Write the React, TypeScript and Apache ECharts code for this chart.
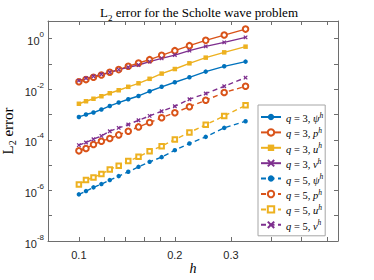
import React, { useEffect, useRef } from 'react';
import * as echarts from 'echarts';

// mesh sizes h
const hValues = [0.1, 0.10526, 0.11111, 0.11765, 0.125, 0.13333, 0.14286, 0.15385, 0.16667, 0.18182, 0.2, 0.22222, 0.25, 0.28571, 0.33333];

// q = 3 (solid)
const q3Psi = [8.05e-4, 1.0e-3, 1.2e-3, 1.58e-3, 2.19e-3, 2.98e-3, 4.03e-3, 5.43e-3, 8.32e-3, 1.25e-2, 1.89e-2, 2.97e-2, 4.99e-2, 8.07e-2, 0.124];
const q3P = [1.97e-2, 2.41e-2, 2.97e-2, 3.66e-2, 4.68e-2, 5.98e-2, 8.07e-2, 0.109, 0.148, 0.219, 0.336, 0.53, 0.857, 1.387, 2.39];
const q3U = [2.67e-3, 3.36e-3, 4.21e-3, 5.29e-3, 6.95e-3, 9.12e-3, 1.25e-2, 1.72e-2, 2.59e-2, 4.16e-2, 6.31e-2, 0.106, 0.178, 0.288, 0.483];
const q3V = [2.2e-2, 2.71e-2, 3.25e-2, 3.9e-2, 4.68e-2, 5.98e-2, 7.37e-2, 9.08e-2, 0.124, 0.167, 0.225, 0.336, 0.497, 0.714, 1.125];

// q = 5 (dashed)
const q5Psi = [6.98e-7, 9.42e-7, 1.32e-6, 1.78e-6, 2.56e-6, 3.68e-6, 5.44e-6, 8.57e-6, 1.35e-5, 2.07e-5, 3.91e-5, 7.19e-5, 1.31e-4, 2.97e-4, 5.46e-4];
const q5P = [3.67e-5, 4.56e-5, 6.56e-5, 8.86e-5, 1.13e-4, 1.57e-4, 2.2e-4, 3.25e-4, 4.84e-4, 7.5e-4, 1.18e-3, 2.04e-3, 3.67e-3, 7.4e-3, 1.31e-2];
const q5U = [1.73e-6, 2.56e-6, 3.27e-6, 4.42e-6, 6.78e-6, 9.4e-6, 1.44e-5, 2.13e-5, 3.57e-5, 5.62e-5, 1.03e-4, 1.95e-4, 3.97e-4, 8.83e-4, 2.33e-3];
const q5V = [6.17e-5, 7.87e-5, 1.06e-4, 1.43e-4, 2.2e-4, 2.97e-4, 4.04e-4, 5.97e-4, 8.83e-4, 1.35e-3, 2.13e-3, 4.03e-3, 6.76e-3, 1.31e-2, 2.89e-2];

const xLabelValues = [0.1, 0.2, 0.3];
const xTickValues = [0.1, 0.12, 0.14, 0.16, 0.18, 0.2, 0.3, 0.4, 0.5, 0.6];
const yLabelValues = [1e-8, 1e-6, 1e-4, 1e-2, 1];
const yDecadeTicks = [1e-8, 1e-7, 1e-6, 1e-5, 1e-4, 1e-3, 1e-2, 1e-1, 1];

const BLUE = '#0072BD';
const ORANGE = '#D95319';
const YELLOW = '#EDB120';
const PURPLE = '#7E2F8E';
const XPATH = 'path://M0,0L10,10M0,10L10,0';

type Def = { q: string; v: string; data: number[]; color: string; dashed: boolean; symbol: string; size: number; hollow?: boolean };
const defs: Def[] = [
  { q: '3', v: 'ψ', data: q3Psi, color: BLUE, dashed: false, symbol: 'circle', size: 4.5 },
  { q: '3', v: 'p', data: q3P, color: ORANGE, dashed: false, symbol: 'emptyCircle', size: 5.5, hollow: true },
  { q: '3', v: 'u', data: q3U, color: YELLOW, dashed: false, symbol: 'rect', size: 4.5 },
  { q: '3', v: 'v', data: q3V, color: PURPLE, dashed: false, symbol: XPATH, size: 3.5 },
  { q: '5', v: 'ψ', data: q5Psi, color: BLUE, dashed: true, symbol: 'circle', size: 4.5 },
  { q: '5', v: 'p', data: q5P, color: ORANGE, dashed: true, symbol: 'emptyCircle', size: 5.5, hollow: true },
  { q: '5', v: 'u', data: q5U, color: YELLOW, dashed: true, symbol: 'emptyRect', size: 4.5, hollow: true },
  { q: '5', v: 'v', data: q5V, color: PURPLE, dashed: true, symbol: XPATH, size: 3.5 },
];

const SERIF = '"Liberation Serif", "DejaVu Serif", serif';
const SANS = '"Liberation Sans", Arial, sans-serif';
const AXIS_COLOR = '#6e6e6e';
const TEXT_COLOR = '#262626';

export default function App() {
  const ref = useRef<HTMLDivElement>(null);
  useEffect(() => {
    if (!ref.current) return;
    const chart = echarts.init(ref.current, undefined, { renderer: 'svg' });
    const nameOf = (d: Def) => `q = ${d.q}, ${d.v}h`;
    const series = defs.map((d) => ({
      name: nameOf(d),
      type: 'line',
      data: hValues.map((h, i) => [h, d.data[i]]),
      symbol: d.symbol,
      symbolSize: d.size,
      showSymbol: true,
      lineStyle: { color: d.color, width: 1.4, type: d.dashed ? [5, 3.5] : 'solid' },
      itemStyle: {
        color: d.color,
        borderColor: d.color,
        borderWidth: d.symbol === XPATH ? 1.3 : d.hollow ? 1.3 : 0,
      },
      xAxisIndex: 0,
      yAxisIndex: 0,
      z: 3,
    }));

    const xBase = {
      type: 'log',
      logBase: 10,
      min: 0.08,
      max: 0.65,
      splitLine: { show: false },
      axisLine: { show: true, onZero: false, lineStyle: { color: AXIS_COLOR, width: 1 } },
      axisTick: { show: true, inside: true, length: 4, customValues: xTickValues, lineStyle: { color: AXIS_COLOR } },
      minorTick: { show: false },
    };
    const yBase = {
      type: 'log',
      logBase: 10,
      min: 1e-8,
      max: 5,
      splitLine: { show: false },
      axisLine: { show: true, onZero: false, lineStyle: { color: AXIS_COLOR, width: 1 } },
      axisTick: { show: true, inside: true, length: 4, customValues: yDecadeTicks, lineStyle: { color: AXIS_COLOR } },
      minorTick: { show: false },
    };

    const labelRich = {
      b: { fontFamily: SANS, fontSize: 11, color: TEXT_COLOR, verticalAlign: 'bottom', lineHeight: 16 },
      s: { fontFamily: SANS, fontSize: 8, color: TEXT_COLOR, verticalAlign: 'top', lineHeight: 16 },
    };

    const legendRich = {
      i: { fontFamily: SERIF, fontStyle: 'italic', fontSize: 10.5, color: '#000', lineHeight: 14, verticalAlign: 'bottom' },
      n: { fontFamily: SERIF, fontSize: 10.5, color: '#000', lineHeight: 14, verticalAlign: 'bottom' },
      sup: { fontFamily: SERIF, fontStyle: 'italic', fontSize: 7.5, color: '#000', lineHeight: 14, verticalAlign: 'top', padding: [1, 0, 0, 0] },
    };

    chart.setOption({
      animation: false,
      backgroundColor: '#fff',
      title: {
        text: '{n|L}{sub|2}{n| error for the Scholte wave problem}',
        left: 194,
        textAlign: 'center',
        top: 1,
        textStyle: {
          fontWeight: 'normal',
          rich: {
            n: { fontFamily: SERIF, fontSize: 13, fontWeight: 'normal', color: '#000', lineHeight: 18, verticalAlign: 'top' },
            sub: { fontFamily: SERIF, fontSize: 9, fontWeight: 'normal', color: '#000', lineHeight: 18, verticalAlign: 'bottom', padding: [0, 0, 2, 0] },
          },
        },
      },
      grid: { left: 48, right: 36, top: 21, bottom: 39, containLabel: false, outerBoundsMode: 'none' },
      legend: {
        orient: 'vertical',
        left: 258,
        top: 105,
        padding: [5, 2, 4, 2],
        itemGap: 1.4,
        itemWidth: 20,
        itemHeight: 8,
        backgroundColor: '#fff',
        borderColor: '#a6a6a6',
        borderWidth: 1,
        data: defs.map(nameOf),
        formatter: (name: string) => {
          const d = defs.find((x) => nameOf(x) === name)!;
          return `{i|q}{n| = ${d.q}, }{i|${d.v}}{sup|h}`;
        },
        textStyle: { rich: legendRich, padding: [0, 0, 0, 0] },
      },
      xAxis: [
        {
          ...xBase,
          position: 'bottom',
          axisLabel: {
            show: true,
            customValues: xLabelValues,
            margin: 8,
            fontFamily: SANS,
            fontSize: 11,
            color: TEXT_COLOR,
            formatter: (v: number) => String(Math.round(v * 10) / 10),
          },
          name: 'h',
          nameLocation: 'middle',
          nameGap: 20,
          nameMoveOverlap: false,
          nameTextStyle: { fontFamily: SERIF, fontStyle: 'italic', fontSize: 14, color: '#000' },
        },
        {
          ...xBase,
          position: 'top',
          axisLabel: { show: false },
        },
      ],
      yAxis: [
        {
          ...yBase,
          position: 'left',
          axisLabel: {
            show: true,
            customValues: yLabelValues,
            margin: 4,
            formatter: (v: number) => `{b|10}{s|${Math.round(Math.log10(v))}}`,
            rich: labelRich,
          },
          name: '{n|L}{sub|2}{n| error}',
          nameLocation: 'middle',
          nameGap: 33,
          nameRotate: 90,
          nameMoveOverlap: false,
          nameTextStyle: {
            rich: {
              n: { fontFamily: SERIF, fontSize: 15, color: '#000', lineHeight: 14, verticalAlign: 'middle' },
              sub: { fontFamily: SERIF, fontSize: 10, color: '#000', lineHeight: 14, verticalAlign: 'bottom', padding: [0, 0, -2, 0] },
            },
          },
        },
        {
          ...yBase,
          position: 'right',
          axisLabel: { show: false },
        },
      ],
      series,
    });
    return () => chart.dispose();
  }, []);
  return <div ref={ref} style={{ width: 374, height: 280, position: 'absolute', left: 0, top: 0 }} />;
}
